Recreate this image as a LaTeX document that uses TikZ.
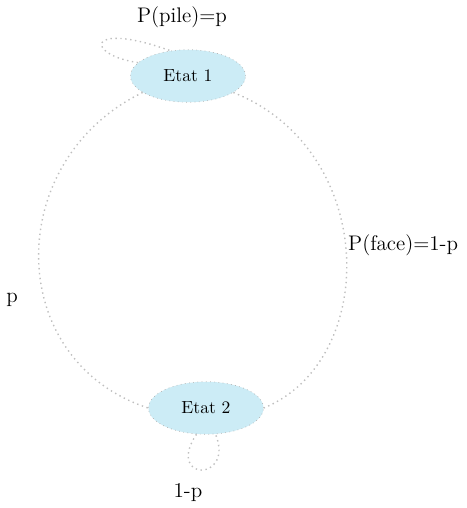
\documentclass[tikz,border=0pt]{standalone}
\usepackage{tikz}
\usetikzlibrary{shapes.geometric}
\definecolor{etatbleu}{RGB}{204,236,246}
\begin{document}
\begin{tikzpicture}[x=0.02cm,y=-0.02cm,every node/.style={font=\large},
  etat/.style={ellipse,draw=gray!60,dotted,fill=etatbleu,minimum width=2.3cm,minimum height=1.05cm,inner sep=1pt,font=\normalsize},
  lien/.style={draw=gray!50,dotted,thick}]
\useasboundingbox (0,0) rectangle (467,508);
\node[etat] (e1) at (188,76) {Etat 1};
\node[etat] (e2) at (206,408) {Etat 2};
% boucles
\draw[lien] (e1.165) .. controls (85,55) and (85,20) .. (e1.125);
\node (lpile) at (182,17) {P(pile)=p};
\draw[lien] (e2.250) .. controls (165,482) and (235,482) .. (e2.290);
\node (lbas) at (188,493) {1-p};
% transitions
\draw[lien] (e1.200) .. controls (3,160) and (3,360) .. (e2.west);
\node (lp) at (12,300) {p};
\draw[lien] (e1.340) .. controls (378,150) and (380,360) .. (e2.east);
\node[anchor=west] (lface) at (342,245) {P(face)=1-p};
\end{tikzpicture}
\end{document}
